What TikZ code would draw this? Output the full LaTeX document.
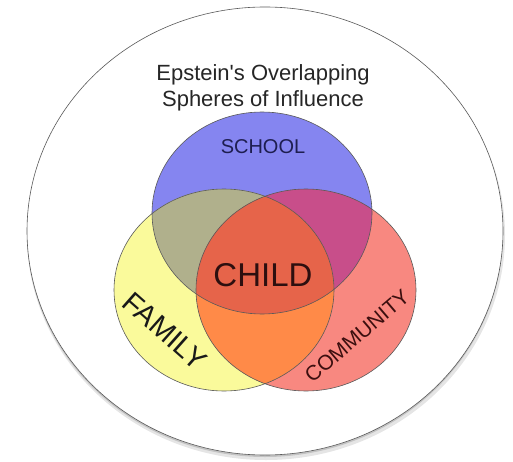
\documentclass[tikz,border=0pt]{standalone}
\usepackage{fontspec}
\setmainfont{Liberation Sans}
\usetikzlibrary{positioning}
\definecolor{schoolblue}{RGB}{133,133,240}
\definecolor{familyyellow}{RGB}{250,250,155}
\definecolor{communityred}{RGB}{248,136,128}
\definecolor{famschool}{RGB}{176,176,140}
\definecolor{schoolcom}{RGB}{200,78,138}
\definecolor{famcom}{RGB}{255,138,72}
\definecolor{childred}{RGB}{230,100,74}
\tikzset{
    sphere/.style = {x radius=110, y radius=101}, % every one of the three spheres has the same size
    rim/.style = {draw=black!65, line width=0.6pt}, % thin outline round each sphere
    lbl/.style = {inner sep=0pt, align=center} % text nodes, no padding
}

\begin{document}
\begin{tikzpicture}[x=1pt, y=-1pt]
    \useasboundingbox (0,0) rectangle (513,462);
    % the big outer sphere, with a soft shadow under it
    \coordinate (world) at (265,231);
    \fill[black, opacity=0.10] (266,235) ellipse [x radius=239, y radius=225];
    \fill[black, opacity=0.15] (265,233) ellipse [x radius=238, y radius=224];
    \filldraw[fill=white, rim] (world) ellipse [x radius=238, y radius=224];

    % centres of the three spheres
    \coordinate (school) at (262,213);
    \coordinate (family) at (224,290);
    \coordinate (community) at (306,290);

    \fill[schoolblue] (school) ellipse [sphere];
    \fill[familyyellow] (family) ellipse [sphere];
    \fill[communityred] (community) ellipse [sphere];

    % the overlaps
    \begin{scope}
        \clip (school) ellipse [sphere];
        \fill[famschool] (family) ellipse [sphere];
        \fill[schoolcom] (community) ellipse [sphere];
    \end{scope}
    \begin{scope}
        \clip (family) ellipse [sphere];
        \fill[famcom] (community) ellipse [sphere];
        \clip (school) ellipse [sphere];
        \fill[childred] (community) ellipse [sphere];
    \end{scope}

    \draw[rim] (school) ellipse [sphere];
    \draw[rim] (family) ellipse [sphere];
    \draw[rim] (community) ellipse [sphere];

    % labels
    \node[lbl, text=black!85, font=\fontsize{22}{26}\selectfont] (title) at (263,88) {Epstein\textquotesingle s Overlapping\\Spheres of Influence};
    \node[lbl, text={rgb,255:red,30;green,30;blue,80}, font=\fontsize{20}{24}\selectfont] (schoollbl) at (263,147) {SCHOOL};
    \node[lbl, text={rgb,255:red,45;green,15;blue,15}, font=\fontsize{33}{38}\selectfont] (child) at (263,275) {CHILD};
    \node[lbl, text=black!90, font=\fontsize{29}{34}\selectfont, rotate=-41.5] (familylbl) at (165,331) {FAMILY};
    \node[lbl, text={rgb,255:red,60;green,15;blue,15}, font=\fontsize{21}{25}\selectfont, rotate=40.5] (communitylbl) at (357,336) {COMMUNITY};
\end{tikzpicture}
\end{document}
